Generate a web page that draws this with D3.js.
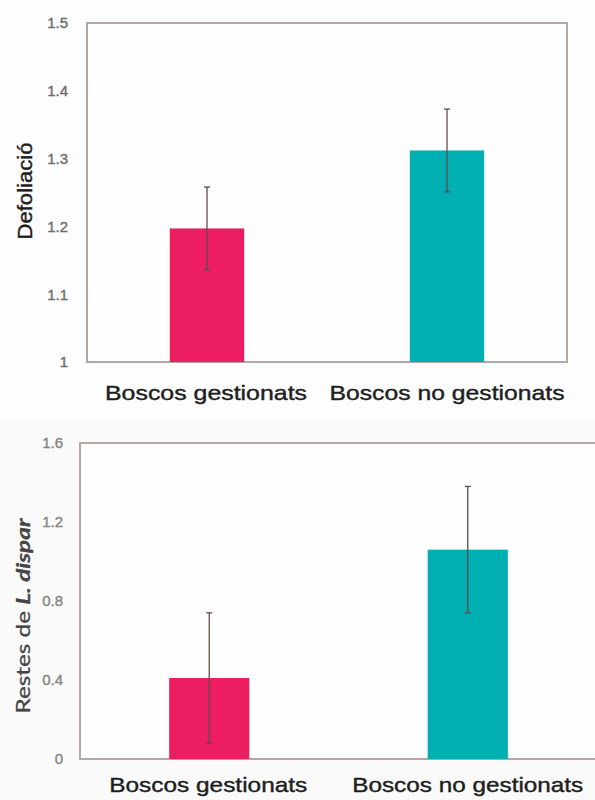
<!DOCTYPE html>
<html><head><meta charset="utf-8">
<script src="https://cdn.jsdelivr.net/npm/d3@7"></script>
<style>body{margin:0;background:#fafafa;}svg{display:block;}</style>
</head><body>
<svg id="c" width="595" height="800"></svg>
<script>
const categories = ["Boscos gestionats", "Boscos no gestionats"];
const barColors = ["#ec1d61", "#00afb2"];
const defoliacio = [1.197, 1.312];
const defoliacioErr = [0.061, 0.061];
const defoliacioTicks = [1, 1.1, 1.2, 1.3, 1.4, 1.5];
const restes = [0.41, 1.06];
const restesErr = [0.33, 0.32];
const restesTicks = [0, 0.4, 0.8, 1.2, 1.6];

const svg = d3.select("#c");
svg.append("rect").attr("x",0).attr("y",0).attr("width",595).attr("height",410).attr("fill","#fdfdfd");
svg.append("rect").attr("x",0).attr("y",410).attr("width",595).attr("height",10).attr("fill","#ffffff");

function chart(o){
  const g = svg.append("g");
  const x = d3.scaleBand().domain(categories).range([o.left,o.right]).paddingInner(0.69).paddingOuter(0.345);
  const y = d3.scaleLinear().domain(o.domain).range([o.bottom,o.top]);
  g.append("rect").attr("x",o.left).attr("y",o.top).attr("width",o.right-o.left).attr("height",o.bottom-o.top)
    .attr("fill","#fefefe").attr("stroke","#b3a8a3").attr("stroke-width",2);
  const ax = g.append("g").attr("transform",`translate(${o.left},0)`)
    .call(d3.axisLeft(y).tickValues(o.ticks).tickSize(0).tickPadding(o.tickPad).tickFormat(d=>String(d)));
  ax.select(".domain").remove();
  ax.selectAll("text").attr("font-family","Liberation Sans, Arial, sans-serif").attr("font-size",15)
    .attr("fill",o.tickColor).attr("stroke",o.tickColor).attr("stroke-width",0.4);
  g.selectAll(".bar").data(categories).enter().append("rect")
    .attr("x",d=>x(d)).attr("width",x.bandwidth())
    .attr("y",(d,i)=>y(o.values[i])).attr("height",(d,i)=>y(o.domain[0])-y(o.values[i]))
    .attr("fill",(d,i)=>barColors[i]);
  categories.forEach((c,i)=>{
    const cx = x(c)+x.bandwidth()/2;
    const hi = y(o.values[i]+o.errs[i]), lo = y(o.values[i]-o.errs[i]);
    g.append("line").attr("x1",cx).attr("x2",cx).attr("y1",hi).attr("y2",lo).attr("stroke","#5e4e4c").attr("stroke-width",1.3);
    [hi,lo].forEach(yy=>g.append("line").attr("x1",cx-3).attr("x2",cx+3).attr("y1",yy).attr("y2",yy).attr("stroke","#5e4e4c").attr("stroke-width",1.3));
  });
  categories.forEach((c,i)=>{
    g.append("text").attr("x",x(c)+x.bandwidth()/2+o.labelShift[i]).attr("y",o.labelY).attr("text-anchor","middle")
      .attr("font-family","Liberation Sans, Arial, sans-serif").attr("font-size",21).attr("fill","#1e1e1e")
      .attr("stroke","#1e1e1e").attr("stroke-width",0.4)
      .attr("textLength",o.labelLen[i]).attr("lengthAdjust","spacingAndGlyphs").text(c);
  });
  return g;
}

chart({left:87,right:567,top:23,bottom:362,domain:[1,1.5],ticks:defoliacioTicks,values:defoliacio,errs:defoliacioErr,
  tickPad:19,tickColor:"#6e6e6e",labelY:400,labelLen:[202,235],labelShift:[-1,0]});
chart({left:80,right:597,top:443,bottom:759,domain:[0,1.6],ticks:restesTicks,values:restes,errs:restesErr,
  tickPad:17,tickColor:"#858585",labelY:792,labelLen:[198,231],labelShift:[-1,0]});

svg.append("text").attr("transform","translate(32,191) rotate(-90)").attr("text-anchor","middle")
  .attr("font-family","Liberation Sans, Arial, sans-serif").attr("font-size",20).attr("fill","#1e1e1e")
  .attr("stroke","#1e1e1e").attr("stroke-width",0.4)
  .attr("textLength",97).attr("lengthAdjust","spacingAndGlyphs").text("Defoliació");
const t2 = svg.append("text").attr("transform","translate(30,616) rotate(-90)").attr("text-anchor","middle")
  .attr("font-family","Lato, 'Open Sans', sans-serif").attr("font-size",19).attr("fill","#454545")
  .attr("stroke","#454545").attr("stroke-width",0.3)
  .attr("textLength",195).attr("lengthAdjust","spacingAndGlyphs");
t2.append("tspan").text("Restes de ");
t2.append("tspan").attr("font-style","italic").attr("font-weight","bold").text("L. dispar");
</script>
</body></html>
